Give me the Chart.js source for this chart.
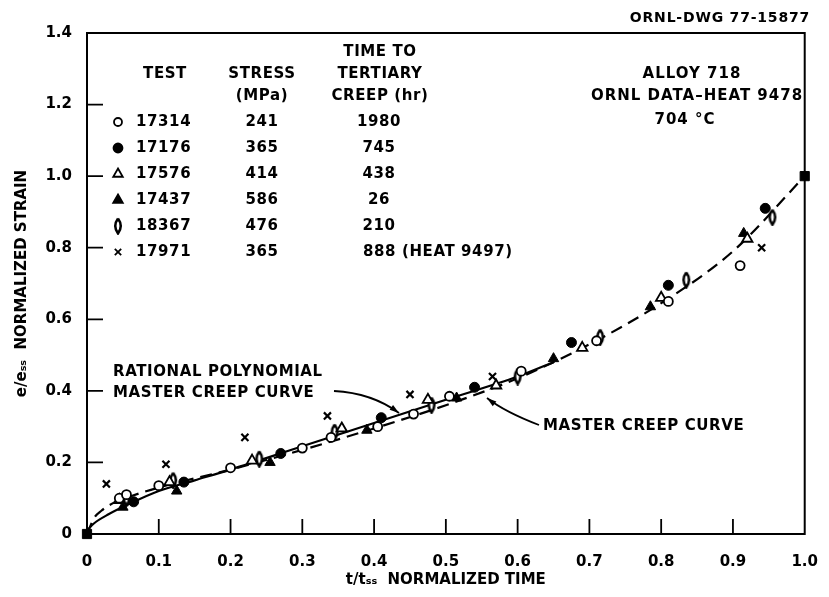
<!DOCTYPE html>
<html>
<head>
<meta charset="utf-8">
<title>Alloy 718 normalized creep</title>
<script src="https://cdn.jsdelivr.net/npm/chart.js@4.4.0/dist/chart.umd.min.js"></script>
<style>
html, body { margin: 0; padding: 0; background: #fff; }
</style>
</head>
<body>
<canvas id="creepChart" width="829" height="597"></canvas>
<script>
// t/tss and e/ess readings per test
var t17314 = [0.045, 0.055, 0.10, 0.20, 0.30, 0.34, 0.405, 0.455, 0.505, 0.605, 0.71, 0.81, 0.91];
var e17314 = [0.10, 0.11, 0.135, 0.185, 0.24, 0.27, 0.30, 0.335, 0.385, 0.455, 0.54, 0.65, 0.75];
var t17176 = [0, 0.065, 0.135, 0.27, 0.41, 0.54, 0.675, 0.81, 0.945, 1.0];
var e17176 = [0, 0.09, 0.145, 0.225, 0.325, 0.41, 0.535, 0.695, 0.91, 1.0];
var t17576 = [0.045, 0.115, 0.23, 0.355, 0.475, 0.57, 0.69, 0.80, 0.92];
var e17576 = [0.095, 0.145, 0.205, 0.295, 0.375, 0.415, 0.52, 0.66, 0.825];
var t17437 = [0.05, 0.125, 0.255, 0.39, 0.515, 0.65, 0.785, 0.915];
var e17437 = [0.075, 0.12, 0.20, 0.29, 0.38, 0.49, 0.635, 0.84];
var t18367 = [0.055, 0.12, 0.24, 0.345, 0.48, 0.60, 0.715, 0.835, 0.955];
var e18367 = [0.10, 0.15, 0.21, 0.285, 0.36, 0.44, 0.55, 0.71, 0.885];
var t17971 = [0.027, 0.11, 0.22, 0.335, 0.45, 0.565, 0.94];
var e17971 = [0.14, 0.195, 0.27, 0.33, 0.39, 0.44, 0.80];

// fitted curves
var tMaster = [0, 0.01, 0.02, 0.04, 0.06, 0.10, 0.20, 0.30, 0.40, 0.50, 0.60, 0.70, 0.80, 0.90, 1.0];
var eMaster = [0, 0.045, 0.065, 0.09, 0.105, 0.13, 0.18, 0.235, 0.295, 0.36, 0.435, 0.53, 0.645, 0.79, 1.0];
var tRational = [0, 0.01, 0.03, 0.06, 0.10, 0.15, 0.20, 0.30, 0.40, 0.50, 0.60, 0.65];
var eRational = [0.01, 0.03, 0.055, 0.085, 0.12, 0.15, 0.18, 0.245, 0.31, 0.375, 0.44, 0.48];

var xTicks = [0, 0.1, 0.2, 0.3, 0.4, 0.5, 0.6, 0.7, 0.8, 0.9, 1.0];
var yTicks = [0, 0.2, 0.4, 0.6, 0.8, 1.0, 1.2, 1.4];

// legend table rows: test, stress (MPa), time to tertiary creep (hr)
var legendTests = ['17314', '17176', '17576', '17437', '18367', '17971'];
var legendStress = ['241', '365', '414', '586', '476', '365'];
var legendTime = ['1980', '745', '438', '26', '210', '888 (HEAT 9497)'];

function pts(xs, ys) {
    return xs.map(function (x, i) { return { x: x, y: ys[i] }; });
}

// tall lens shaped marker for 18367
var lensImg = (function () {
    var c = document.createElement('canvas');
    c.width = 12; c.height = 18;
    var g = c.getContext('2d');
    g.beginPath();
    g.moveTo(6, 1.5);
    g.quadraticCurveTo(11.5, 9, 6, 16.5);
    g.quadraticCurveTo(0.5, 9, 6, 1.5);
    g.fillStyle = '#fff';
    g.fill();
    g.lineWidth = 2.5;
    g.strokeStyle = '#000';
    g.stroke();
    return c;
})();

var FONT = '"DejaVu Sans", "Liberation Sans", Arial, sans-serif';

var markerStyles = [
    { pointStyle: 'circle', radius: 4.5, bg: '#fff', bw: 1.8 },
    { pointStyle: 'circle', radius: 5, bg: '#000', bw: 1 },
    { pointStyle: 'triangle', radius: 6, bg: '#fff', bw: 1.8 },
    { pointStyle: 'triangle', radius: 6, bg: '#000', bw: 1 },
    { pointStyle: lensImg, radius: 6, bg: '#fff', bw: 1.8 },
    { pointStyle: 'crossRot', radius: 5, bg: '#000', bw: 2.2 }
];

function markerSet(label, data, m) {
    return {
        label: label,
        data: data,
        pointStyle: m.pointStyle,
        pointRadius: m.radius,
        pointBackgroundColor: m.bg,
        pointBorderColor: '#000',
        pointBorderWidth: m.bw,
        showLine: false,
        clip: false,
        order: 1
    };
}

var endpointSet = markerSet('17176', pts(t17176, e17176), markerStyles[1]);
endpointSet.pointStyle = function (c) {
    var v = c.raw;
    return (v && (v.x === 0 || v.x === 1)) ? 'rect' : 'circle';
};
endpointSet.pointRadius = function (c) {
    var v = c.raw;
    return (v && (v.x === 0 || v.x === 1)) ? 6.5 : 5;
};

// frame, inward ticks, legend table and notes
var creepDecor = {
    id: 'creepDecor',
    afterDraw: function (chart) {
        var ctx = chart.ctx;
        var a = chart.chartArea;
        var xs = chart.scales.x, ys = chart.scales.y;
        ctx.save();
        ctx.strokeStyle = '#000';
        ctx.lineWidth = 2;
        ctx.strokeRect(a.left, a.top, a.right - a.left, a.bottom - a.top);

        ctx.lineWidth = 1.8;
        ctx.beginPath();
        yTicks.slice(1, -1).forEach(function (v) {
            var p = ys.getPixelForValue(v);
            ctx.moveTo(a.left, p);
            ctx.lineTo(a.left + 16, p);
        });
        xTicks.slice(1, -1).forEach(function (v) {
            var p = xs.getPixelForValue(v);
            ctx.moveTo(p, a.bottom);
            ctx.lineTo(p, a.bottom - 15);
        });
        ctx.stroke();

        ctx.fillStyle = '#000';
        ctx.textBaseline = 'middle';

        ctx.letterSpacing = '0.8px';
        ctx.font = 'bold 14px ' + FONT;
        ctx.textAlign = 'right';
        ctx.fillText('ORNL-DWG 77-15877', 810, 18);

        ctx.letterSpacing = '0.6px';
        ctx.font = 'bold 15px ' + FONT;
        ctx.textAlign = 'center';
        ctx.fillText('TIME TO', 380, 52);
        ctx.fillText('TEST', 165, 74);
        ctx.fillText('STRESS', 262, 74);
        ctx.fillText('TERTIARY', 380, 74);
        ctx.fillText('(MPa)', 262, 96);
        ctx.fillText('CREEP (hr)', 380, 96);

        legendTests.forEach(function (name, i) {
            var y = 122 + i * 26;
            var m = markerStyles[i];
            ctx.fillStyle = m.bg;
            ctx.strokeStyle = '#000';
            Chart.helpers.drawPoint(ctx, {
                pointStyle: m.pointStyle, radius: m.radius - 0.5,
                borderWidth: m.bw, rotation: 0
            }, 118, y);
            ctx.fillStyle = '#000';
            ctx.textAlign = 'left';
            ctx.fillText(name, 136, y);
            ctx.textAlign = 'center';
            ctx.fillText(legendStress[i], 262, y);
            if (i === legendTests.length - 1) {
                ctx.textAlign = 'left';
                ctx.fillText(legendTime[i], 363, y);
            } else {
                ctx.fillText(legendTime[i], 379, y);
            }
        });

        ctx.textAlign = 'center';
        ctx.letterSpacing = '1px';
        ctx.fillText('ALLOY 718', 692, 74);
        ctx.fillText('ORNL DATA\u2013HEAT 9478', 697, 96);
        ctx.fillText('704 \u00B0C', 685, 120);

        ctx.letterSpacing = '0.6px';
        ctx.textAlign = 'left';
        ctx.fillText('RATIONAL POLYNOMIAL', 113, 372);
        ctx.fillText('MASTER CREEP CURVE', 113, 393);
        ctx.fillText('MASTER CREEP CURVE', 543, 426);

        // arrows
        ctx.lineWidth = 1.8;
        drawArrow(ctx, 334, 391, 372, 393, 399, 413);
        drawArrow(ctx, 539, 425, 505, 412, 487, 398);
        ctx.restore();
    }
};

function drawArrow(ctx, x0, y0, cx, cy, x1, y1) {
    ctx.beginPath();
    ctx.moveTo(x0, y0);
    ctx.quadraticCurveTo(cx, cy, x1, y1);
    ctx.stroke();
    var ang = Math.atan2(y1 - cy, x1 - cx);
    ctx.beginPath();
    ctx.moveTo(x1, y1);
    ctx.lineTo(x1 - 10 * Math.cos(ang - 0.3), y1 - 10 * Math.sin(ang - 0.3));
    ctx.lineTo(x1 - 10 * Math.cos(ang + 0.3), y1 - 10 * Math.sin(ang + 0.3));
    ctx.closePath();
    ctx.fill();
}

var ctx = document.getElementById('creepChart').getContext('2d');
var creepChart = new Chart(ctx, {
    type: 'scatter',
    data: {
        datasets: [
            markerSet('17314', pts(t17314, e17314), markerStyles[0]),
            endpointSet,
            markerSet('17576', pts(t17576, e17576), markerStyles[2]),
            markerSet('17437', pts(t17437, e17437), markerStyles[3]),
            markerSet('18367', pts(t18367, e18367), markerStyles[4]),
            markerSet('17971', pts(t17971, e17971), markerStyles[5]),
            {
                label: 'MASTER CREEP CURVE',
                data: pts(tMaster, eMaster),
                showLine: true,
                pointRadius: 0,
                borderColor: '#000',
                borderWidth: 2.2,
                borderDash: [12, 7],
                cubicInterpolationMode: 'monotone',
                order: 5
            },
            {
                label: 'RATIONAL POLYNOMIAL MASTER CREEP CURVE',
                data: pts(tRational, eRational),
                showLine: true,
                pointRadius: 0,
                borderColor: '#000',
                borderWidth: 2.2,
                cubicInterpolationMode: 'monotone',
                order: 6
            }
        ]
    },
    options: {
        responsive: false,
        animation: false,
        devicePixelRatio: 1,
        layout: {
            padding: { top: 33, right: 13, left: 0, bottom: 0 }
        },
        plugins: {
            legend: { display: false },
            tooltip: { enabled: false }
        },
        scales: {
            x: {
                type: 'linear',
                min: 0,
                max: 1,
                afterFit: function (scale) { scale.height = 63; },
                afterBuildTicks: function (scale) {
                    scale.ticks = xTicks.map(function (v) { return { value: v }; });
                },
                grid: { display: false },
                border: { display: false },
                ticks: {
                    color: '#000',
                    padding: 11,
                    maxRotation: 0,
                    font: { family: FONT, size: 15, weight: 'bold' },
                    callback: function (v) { return v === 0 ? '0' : v.toFixed(1); }
                },
                title: {
                    display: true,
                    text: 't/t\u209B\u209B  NORMALIZED TIME',
                    color: '#000',
                    padding: { top: 0, bottom: 8 },
                    font: { family: FONT, size: 15, weight: 'bold' }
                }
            },
            y: {
                type: 'linear',
                min: 0,
                max: 1.4,
                afterFit: function (scale) { scale.width = 87; },
                afterBuildTicks: function (scale) {
                    scale.ticks = yTicks.map(function (v) { return { value: v }; });
                },
                grid: { display: false },
                border: { display: false },
                ticks: {
                    color: '#000',
                    padding: 7,
                    font: { family: FONT, size: 15, weight: 'bold' },
                    callback: function (v) { return v === 0 ? '0' : v.toFixed(1); }
                },
                title: {
                    display: true,
                    text: 'e/e\u209B\u209B  NORMALIZED STRAIN',
                    color: '#000',
                    padding: { top: 13, bottom: 0 },
                    font: { family: FONT, size: 15, weight: 'bold' }
                }
            }
        }
    },
    plugins: [creepDecor]
});
</script>
</body>
</html>
